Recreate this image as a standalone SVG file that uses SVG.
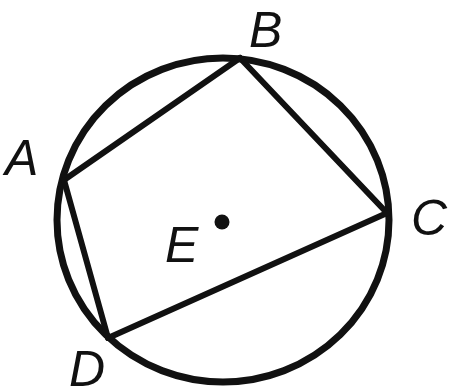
<svg xmlns="http://www.w3.org/2000/svg" width="450" height="389" viewBox="0 0 450 389">
<style>
.lbl{font-family:"Liberation Sans",Arial,sans-serif;font-style:italic;font-size:50px;fill:#111}
.seg{stroke:#111;stroke-width:6;stroke-linecap:round;fill:none}
</style>
<rect width="450" height="389" fill="#fff"/>
<g id="circle"><ellipse cx="223" cy="220" rx="166" ry="162" fill="none" stroke="#111" stroke-width="7"/></g>
<g id="connectors">
<line class="seg" x1="64" y1="180" x2="240" y2="58"/>
<line class="seg" x1="240" y1="58" x2="387" y2="213"/>
<line class="seg" x1="387" y1="213" x2="108" y2="338"/>
<line class="seg" x1="108" y1="338" x2="64" y2="180"/>
</g>
<g id="A"><text class="lbl" x="5" y="175">A</text></g>
<g id="B"><text class="lbl" x="249" y="47">B</text></g>
<g id="C"><text class="lbl" x="411" y="235">C</text></g>
<g id="D"><text class="lbl" x="69" y="386">D</text></g>
<g id="E"><circle cx="222" cy="222" r="7.5" fill="#111"/><text class="lbl" x="165" y="262">E</text></g>
</svg>
